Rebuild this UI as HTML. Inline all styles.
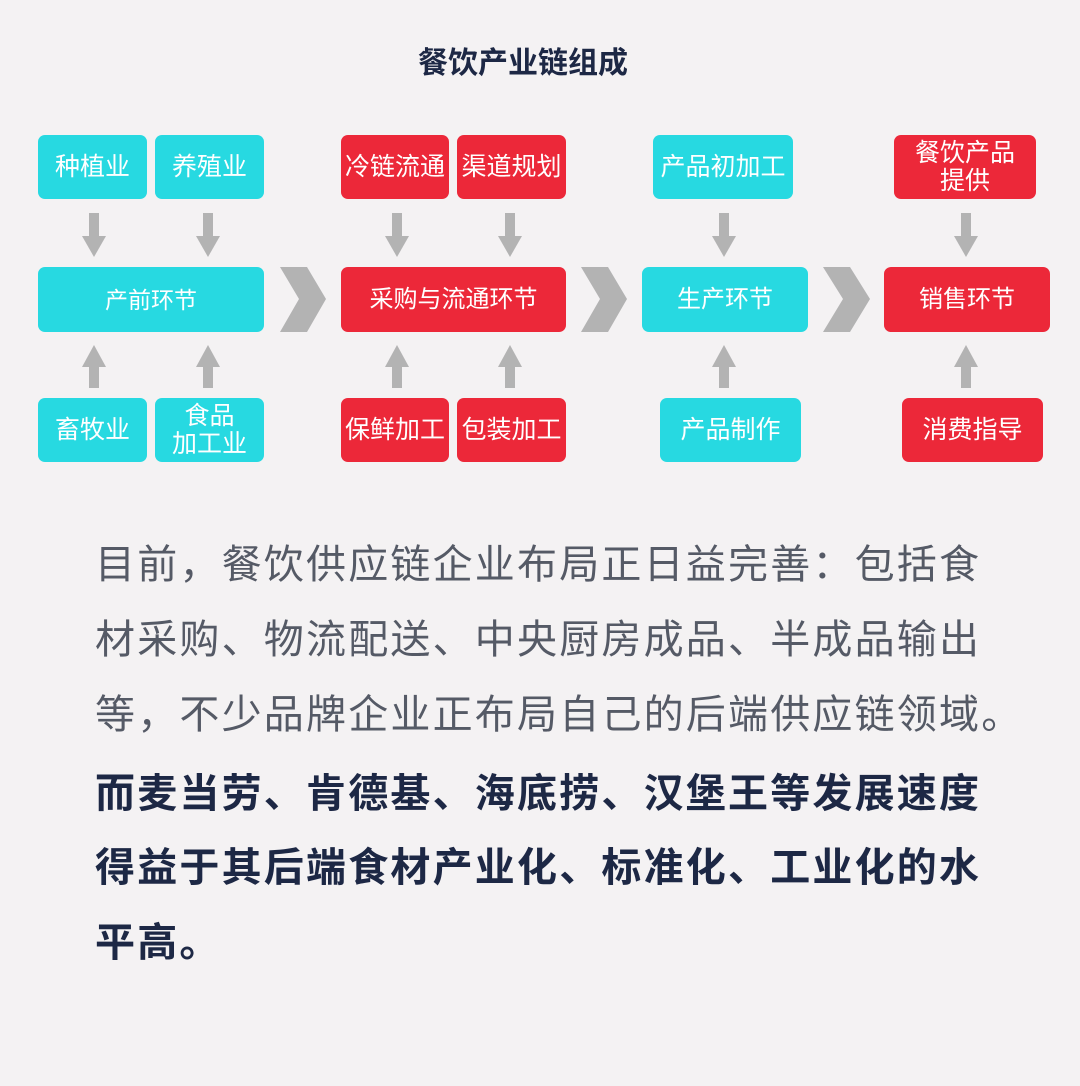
<!DOCTYPE html>
<html><head><meta charset="utf-8"><style>
body{margin:0;width:1080px;height:1086px;background:#f4f2f3;position:relative;overflow:hidden;font-family:"Liberation Sans","Noto Sans CJK SC",sans-serif}
.b{position:absolute;border-radius:7px;color:#fff;display:flex;align-items:center;justify-content:center;text-align:center;font-size:25px;line-height:28px}
.c{background:#27d9e1}.r{background:#ec2839}
.t{position:absolute;left:95px;font-size:40px;letter-spacing:2.2px;white-space:nowrap;line-height:50px}
.n{color:#555a66}.k{color:#1d2845;font-weight:bold}
</style></head><body>
<div style="position:absolute;top:38px;left:0;width:1046px;text-align:center;font-size:30px;font-weight:bold;color:#1d2845">餐饮产业链组成</div>
<svg width="1080" height="480" style="position:absolute;left:0;top:0" fill="#b3b3b3">
<defs>
<g id="d"><rect x="-5" y="213" width="10" height="28"/><polygon points="-12,236 12,236 0,257"/></g>
<g id="u"><rect x="-5" y="366" width="10" height="22"/><polygon points="-12,367 12,367 0,345"/></g>
</defs>
<use href="#d" x="94"/><use href="#d" x="208"/><use href="#d" x="397"/><use href="#d" x="510"/><use href="#d" x="724"/><use href="#d" x="966"/>
<use href="#u" x="94"/><use href="#u" x="208"/><use href="#u" x="397"/><use href="#u" x="510"/><use href="#u" x="724"/><use href="#u" x="966"/>
<polygon points="280,267 307,267 326,299 307,332 280,332 299,299"/>
<polygon points="581,267 608,267 627,299 608,332 581,332 600,299"/>
<polygon points="823,267 850,267 870,299 850,332 823,332 843,299"/>
</svg>
<div class="b c" style="left:38px;top:135px;width:109px;height:64px">种植业</div>
<div class="b c" style="left:155px;top:135px;width:109px;height:64px">养殖业</div>
<div class="b c" style="left:38px;top:267px;width:226px;height:65px;font-size:23px">产前环节</div>
<div class="b c" style="left:38px;top:398px;width:109px;height:64px">畜牧业</div>
<div class="b c" style="left:155px;top:398px;width:109px;height:64px">食品<br>加工业</div>
<div class="b r" style="left:341px;top:135px;width:108px;height:64px">冷链流通</div>
<div class="b r" style="left:457px;top:135px;width:109px;height:64px">渠道规划</div>
<div class="b r" style="left:341px;top:267px;width:225px;height:65px;font-size:24px">采购与流通环节</div>
<div class="b r" style="left:341px;top:398px;width:108px;height:64px">保鲜加工</div>
<div class="b r" style="left:457px;top:398px;width:109px;height:64px">包装加工</div>
<div class="b c" style="left:653px;top:135px;width:140px;height:64px">产品初加工</div>
<div class="b c" style="left:642px;top:267px;width:166px;height:65px;font-size:24px">生产环节</div>
<div class="b c" style="left:660px;top:398px;width:141px;height:64px">产品制作</div>
<div class="b r" style="left:894px;top:135px;width:142px;height:64px">餐饮产品<br>提供</div>
<div class="b r" style="left:884px;top:267px;width:166px;height:65px;font-size:24px">销售环节</div>
<div class="b r" style="left:902px;top:398px;width:141px;height:64px">消费指导</div>
<div class="t n" style="top:540px">目前，餐饮供应链企业布局正日益完善：包括食</div>
<div class="t n" style="top:615px">材采购、物流配送、中央厨房成品、半成品输出</div>
<div class="t n" style="top:690px">等，不少品牌企业正布局自己的后端供应链领域。</div>
<div class="t k" style="top:769px">而麦当劳、肯德基、海底捞、汉堡王等发展速度</div>
<div class="t k" style="top:843px">得益于其后端食材产业化、标准化、工业化的水</div>
<div class="t k" style="top:918px">平高。</div>
</body></html>
